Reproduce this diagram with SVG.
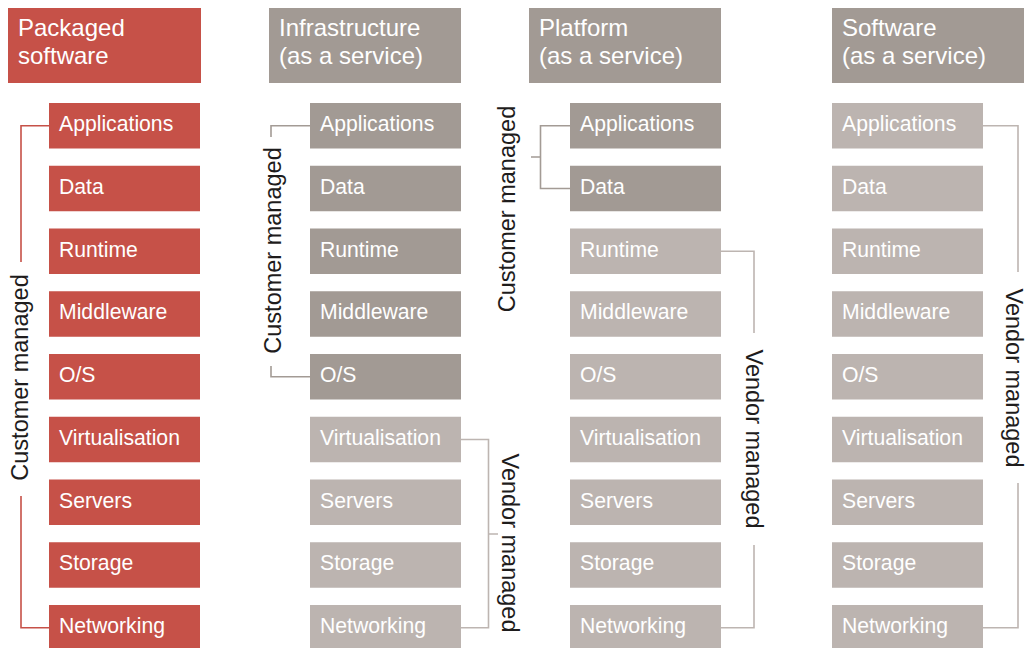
<svg xmlns="http://www.w3.org/2000/svg" width="1028" height="648" viewBox="0 0 1028 648">
<style>
.red{fill:#C65148}
.dark{fill:#A29A94}
.light{fill:#BCB4B0}
.ht{font-family:"Liberation Sans",Arial,sans-serif;font-size:24px;fill:#FFFFFF}
.it{font-family:"Liberation Sans",Arial,sans-serif;font-size:21.2px;fill:#FFFFFF}
.lb{font-family:"Liberation Sans",Arial,sans-serif;font-size:23.5px;fill:#1E1C1C;text-anchor:middle}
.ln{fill:none;stroke-width:1.6}
.lr{stroke:#C65148}
.ld{stroke:#A39B95}
.ll{stroke:#BDB5B1}
</style>
<rect width="1028" height="648" fill="#FFFFFF"/>

<!-- Column 1: Packaged software -->
<g id="h1"><rect class="red" x="8" y="8" width="193" height="75"/><text class="ht" x="18" y="36">Packaged</text><text class="ht" x="18" y="64">software</text></g>
<g id="c1-applications"><rect class="red" x="49" y="103" width="151" height="45.5"/><text class="it" x="59" y="131">Applications</text></g>
<g id="c1-data"><rect class="red" x="49" y="165.75" width="151" height="45.5"/><text class="it" x="59" y="193.75">Data</text></g>
<g id="c1-runtime"><rect class="red" x="49" y="228.5" width="151" height="45.5"/><text class="it" x="59" y="256.5">Runtime</text></g>
<g id="c1-middleware"><rect class="red" x="49" y="291.25" width="151" height="45.5"/><text class="it" x="59" y="319.25">Middleware</text></g>
<g id="c1-os"><rect class="red" x="49" y="354" width="151" height="45.5"/><text class="it" x="59" y="382">O/S</text></g>
<g id="c1-virtualisation"><rect class="red" x="49" y="416.75" width="151" height="45.5"/><text class="it" x="59" y="444.75">Virtualisation</text></g>
<g id="c1-servers"><rect class="red" x="49" y="479.5" width="151" height="45.5"/><text class="it" x="59" y="507.5">Servers</text></g>
<g id="c1-storage"><rect class="red" x="49" y="542.25" width="151" height="45.5"/><text class="it" x="59" y="570.25">Storage</text></g>
<g id="c1-networking"><rect class="red" x="49" y="605" width="151" height="45.5"/><text class="it" x="59" y="633">Networking</text></g>
<g id="c1-label"><text class="lb" transform="translate(28,377.5) rotate(-90)">Customer managed</text></g>

<!-- Column 2: IaaS -->
<g id="h2"><rect class="dark" x="269" y="8" width="192" height="75"/><text class="ht" x="279" y="36">Infrastructure</text><text class="ht" x="279" y="64">(as a service)</text></g>
<g id="c2-applications"><rect class="dark" x="310" y="103" width="151" height="45.5"/><text class="it" x="320" y="131">Applications</text></g>
<g id="c2-data"><rect class="dark" x="310" y="165.75" width="151" height="45.5"/><text class="it" x="320" y="193.75">Data</text></g>
<g id="c2-runtime"><rect class="dark" x="310" y="228.5" width="151" height="45.5"/><text class="it" x="320" y="256.5">Runtime</text></g>
<g id="c2-middleware"><rect class="dark" x="310" y="291.25" width="151" height="45.5"/><text class="it" x="320" y="319.25">Middleware</text></g>
<g id="c2-os"><rect class="dark" x="310" y="354" width="151" height="45.5"/><text class="it" x="320" y="382">O/S</text></g>
<g id="c2-virtualisation"><rect class="light" x="310" y="416.75" width="151" height="45.5"/><text class="it" x="320" y="444.75">Virtualisation</text></g>
<g id="c2-servers"><rect class="light" x="310" y="479.5" width="151" height="45.5"/><text class="it" x="320" y="507.5">Servers</text></g>
<g id="c2-storage"><rect class="light" x="310" y="542.25" width="151" height="45.5"/><text class="it" x="320" y="570.25">Storage</text></g>
<g id="c2-networking"><rect class="light" x="310" y="605" width="151" height="45.5"/><text class="it" x="320" y="633">Networking</text></g>
<g id="c2-label-customer"><text class="lb" transform="translate(281,250.5) rotate(-90)">Customer managed</text></g>
<g id="c2-label-vendor"><text class="lb" transform="translate(502,543) rotate(90)">Vendor managed</text></g>

<!-- Column 3: PaaS -->
<g id="h3"><rect class="dark" x="529" y="8" width="192" height="75"/><text class="ht" x="539" y="36">Platform</text><text class="ht" x="539" y="64">(as a service)</text></g>
<g id="c3-applications"><rect class="dark" x="570" y="103" width="151" height="45.5"/><text class="it" x="580" y="131">Applications</text></g>
<g id="c3-data"><rect class="dark" x="570" y="165.75" width="151" height="45.5"/><text class="it" x="580" y="193.75">Data</text></g>
<g id="c3-runtime"><rect class="light" x="570" y="228.5" width="151" height="45.5"/><text class="it" x="580" y="256.5">Runtime</text></g>
<g id="c3-middleware"><rect class="light" x="570" y="291.25" width="151" height="45.5"/><text class="it" x="580" y="319.25">Middleware</text></g>
<g id="c3-os"><rect class="light" x="570" y="354" width="151" height="45.5"/><text class="it" x="580" y="382">O/S</text></g>
<g id="c3-virtualisation"><rect class="light" x="570" y="416.75" width="151" height="45.5"/><text class="it" x="580" y="444.75">Virtualisation</text></g>
<g id="c3-servers"><rect class="light" x="570" y="479.5" width="151" height="45.5"/><text class="it" x="580" y="507.5">Servers</text></g>
<g id="c3-storage"><rect class="light" x="570" y="542.25" width="151" height="45.5"/><text class="it" x="580" y="570.25">Storage</text></g>
<g id="c3-networking"><rect class="light" x="570" y="605" width="151" height="45.5"/><text class="it" x="580" y="633">Networking</text></g>
<g id="c3-label-customer"><text class="lb" transform="translate(515,209) rotate(-90)">Customer managed</text></g>
<g id="c3-label-vendor"><text class="lb" transform="translate(746,439) rotate(90)">Vendor managed</text></g>

<!-- Column 4: SaaS -->
<g id="h4"><rect class="dark" x="832" y="8" width="192" height="75"/><text class="ht" x="842" y="36">Software</text><text class="ht" x="842" y="64">(as a service)</text></g>
<g id="c4-applications"><rect class="light" x="832" y="103" width="151" height="45.5"/><text class="it" x="842" y="131">Applications</text></g>
<g id="c4-data"><rect class="light" x="832" y="165.75" width="151" height="45.5"/><text class="it" x="842" y="193.75">Data</text></g>
<g id="c4-runtime"><rect class="light" x="832" y="228.5" width="151" height="45.5"/><text class="it" x="842" y="256.5">Runtime</text></g>
<g id="c4-middleware"><rect class="light" x="832" y="291.25" width="151" height="45.5"/><text class="it" x="842" y="319.25">Middleware</text></g>
<g id="c4-os"><rect class="light" x="832" y="354" width="151" height="45.5"/><text class="it" x="842" y="382">O/S</text></g>
<g id="c4-virtualisation"><rect class="light" x="832" y="416.75" width="151" height="45.5"/><text class="it" x="842" y="444.75">Virtualisation</text></g>
<g id="c4-servers"><rect class="light" x="832" y="479.5" width="151" height="45.5"/><text class="it" x="842" y="507.5">Servers</text></g>
<g id="c4-storage"><rect class="light" x="832" y="542.25" width="151" height="45.5"/><text class="it" x="842" y="570.25">Storage</text></g>
<g id="c4-networking"><rect class="light" x="832" y="605" width="151" height="45.5"/><text class="it" x="842" y="633">Networking</text></g>
<g id="c4-label-vendor"><text class="lb" transform="translate(1006,378) rotate(90)">Vendor managed</text></g>

<!-- Connectors (brackets) -->
<g id="connectors">
<path class="ln lr" d="M49,125.75 H21 V262 M21,496 V627.75 H49"/>
<path class="ln ld" d="M310,125.75 H271 V137 M271,366 V376.75 H310"/>
<path class="ln ll" d="M461,439.5 H488.5 V627.75 H461 M488.5,534 H498"/>
<path class="ln ld" d="M570,125.75 H540.5 V188.5 H570 M540.5,157 H531"/>
<path class="ln ll" d="M721,251.25 H754 V333 M754,545 V627.75 H721"/>
<path class="ln ll" d="M983,125.75 H1018 V272 M1018,483 V627.75 H983"/>
</g>
</svg>
